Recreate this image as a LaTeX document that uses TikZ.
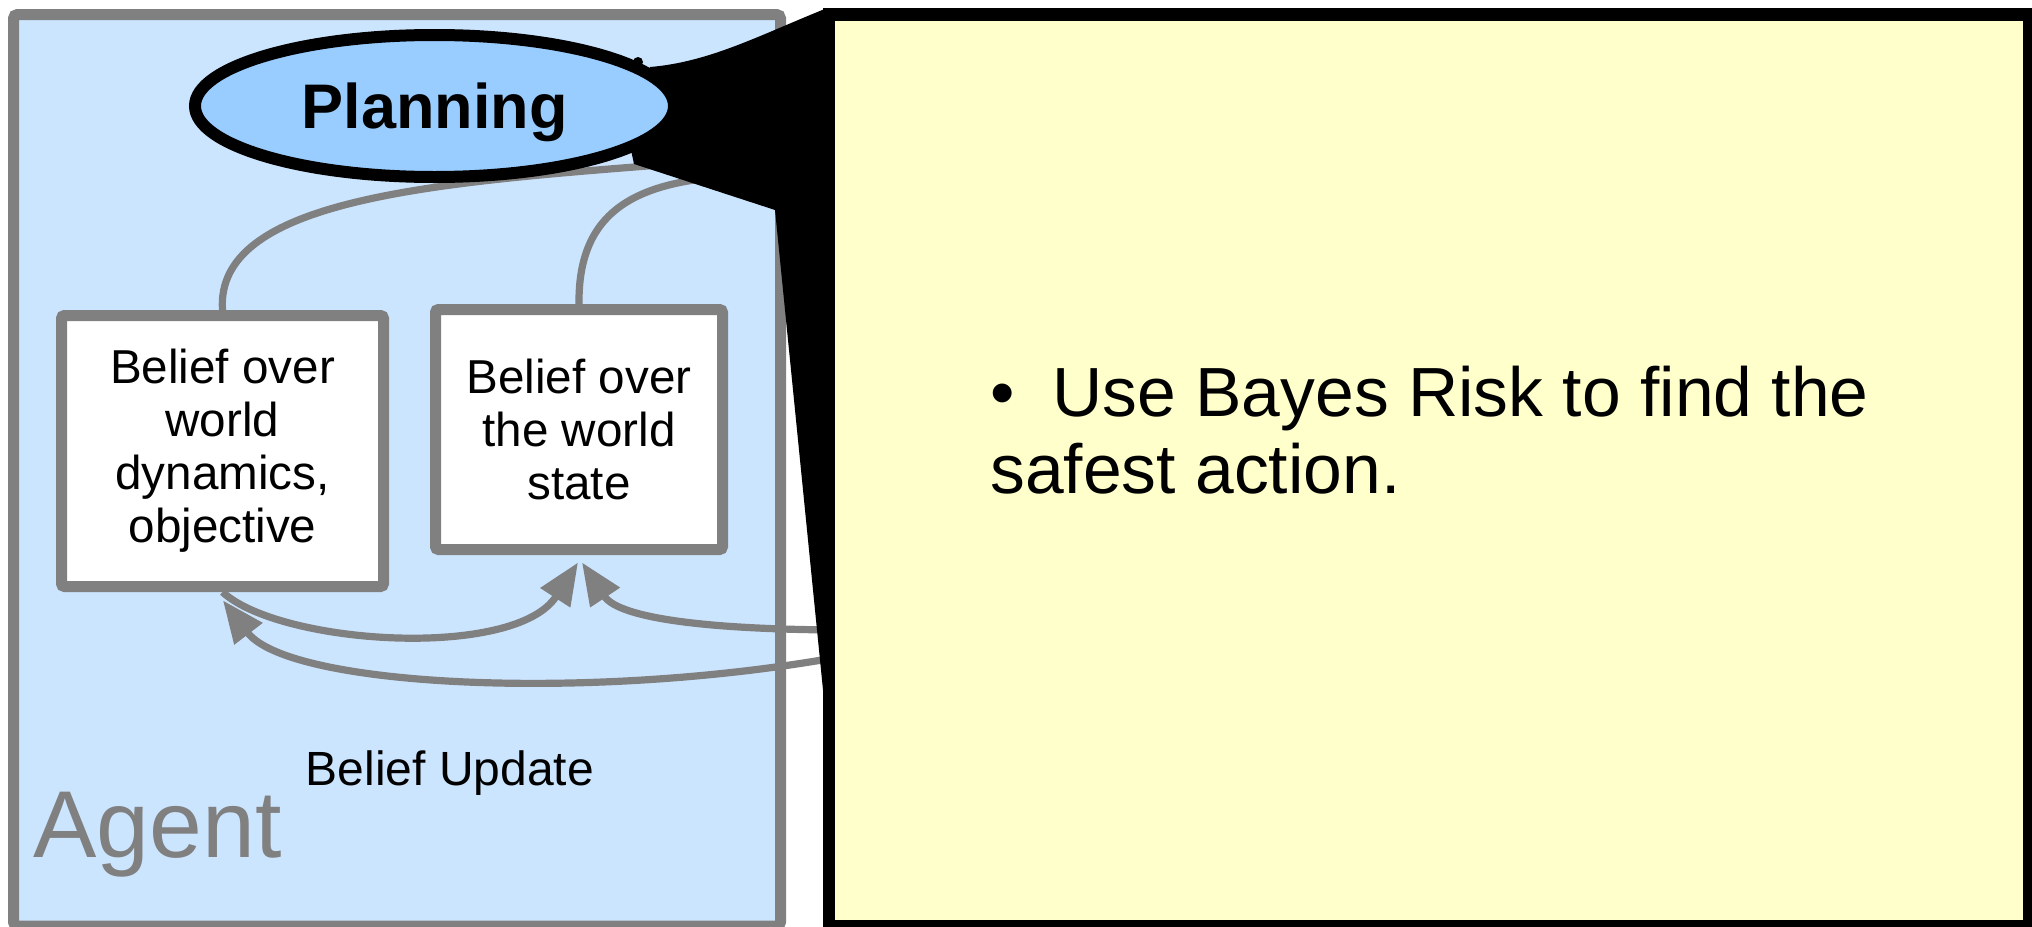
\documentclass[tikz,border=0pt]{standalone}
\usepackage{fontspec}
\setmainfont{Liberation Sans}
\usetikzlibrary{arrows.meta,shapes.geometric,calc}
\definecolor{agentfill}{RGB}{204,229,255}
\definecolor{planfill}{RGB}{153,204,255}
\definecolor{notefill}{RGB}{255,255,204}
\definecolor{linegray}{RGB}{128,128,128}
\begin{document}
\begin{tikzpicture}[x=0.5pt,y=-0.5pt,
  agentbox/.style={draw=linegray, fill=agentfill, line width=5.5pt, rounded corners=2pt, inner sep=0pt},
  beliefbox/.style={draw=linegray, line width=5.5pt, fill=white, rounded corners=1.5pt, align=center, inner sep=0pt, font=\fontsize{23.8pt}{26.5pt}\selectfont},
  plainlabel/.style={anchor=base west, inner sep=0pt},
  link/.style={draw=linegray, line width=3.6pt},
  feedback/.style={link, -{Triangle[length=21pt,width=17pt]}},
  ]
\useasboundingbox (0,0) rectangle (2032,926);
\fill[white] (0,0) rectangle (2032,926);
% agent container
\node[agentbox, minimum width=383.5pt, minimum height=455.75pt] (agent) at (397,470.25) {};
% belief boxes
\node[beliefbox, minimum width=161pt, minimum height=135.5pt] (dyn) at (222.5,451) {Belief over\\world\\dynamics,\\objective};
\node[beliefbox, minimum width=143.5pt, minimum height=120pt] (state) at (579,429.5) {Belief over\\the world\\state};
% labels
\node[plainlabel, font=\fontsize{24pt}{27pt}\selectfont] (update) at (305.5,785) {Belief Update};
\node[plainlabel, text=linegray, font=\fontsize{47.5pt}{55pt}\selectfont] (agentlabel) at (33,857) {Agent};
% connectors to planning (ends hidden under the callout)
\coordinate (planA) at (660,165);
\coordinate (planB) at (740,176);
\draw[link] (dyn.north) .. controls (215,200) and (430,183) .. (planA);
\draw[link] (state.north) .. controls (578,215) and (630,180) .. (planB);
% belief update arrows
\coordinate (obsA) at (850,630);
\coordinate (obsB) at (850,655);
\draw[feedback] (dyn.south) .. controls (280,645) and (515,660) .. ($(state.south)+(-1,7.5)$);
\draw[feedback] (obsA) .. controls (720,630) and (620,620) .. ($(state.south)+(3,7.5)$);
\draw[feedback] (obsB) .. controls (600,702) and (290,688) .. ($(dyn.south)+(0.5,8.5)$);
% callout wedge
\fill[black] (631,150) -- (634,164) -- (775,210) -- (823,690) -- (900,690) -- (900,8.5) -- (826,8.5) .. controls (760,35) and (710,62) .. (650,67) -- cycle;
\fill[black] (638,62) circle[radius=2.5pt];
% callout box
\node[draw=black, fill=notefill, line width=6.25pt, minimum width=600.25pt, minimum height=456pt, inner sep=0pt] (note) at (1429.25,470.5) {};
\node[plainlabel, font=\fontsize{34.8pt}{38.5pt}\selectfont] (tip1) at (990,416) {\makebox[31pt][l]{•}Use Bayes Risk to find the};
\node[plainlabel, font=\fontsize{34.8pt}{38.5pt}\selectfont] (tip2) at (990,493) {safest action.};
% planning
\node[ellipse, draw=black, fill=planfill, line width=6pt, minimum width=239.5pt, minimum height=71pt, inner sep=0pt, text depth=0pt, font=\bfseries\fontsize{31.5pt}{36pt}\selectfont] (plan) at (434.5,106) {Planning};
\end{tikzpicture}
\end{document}
